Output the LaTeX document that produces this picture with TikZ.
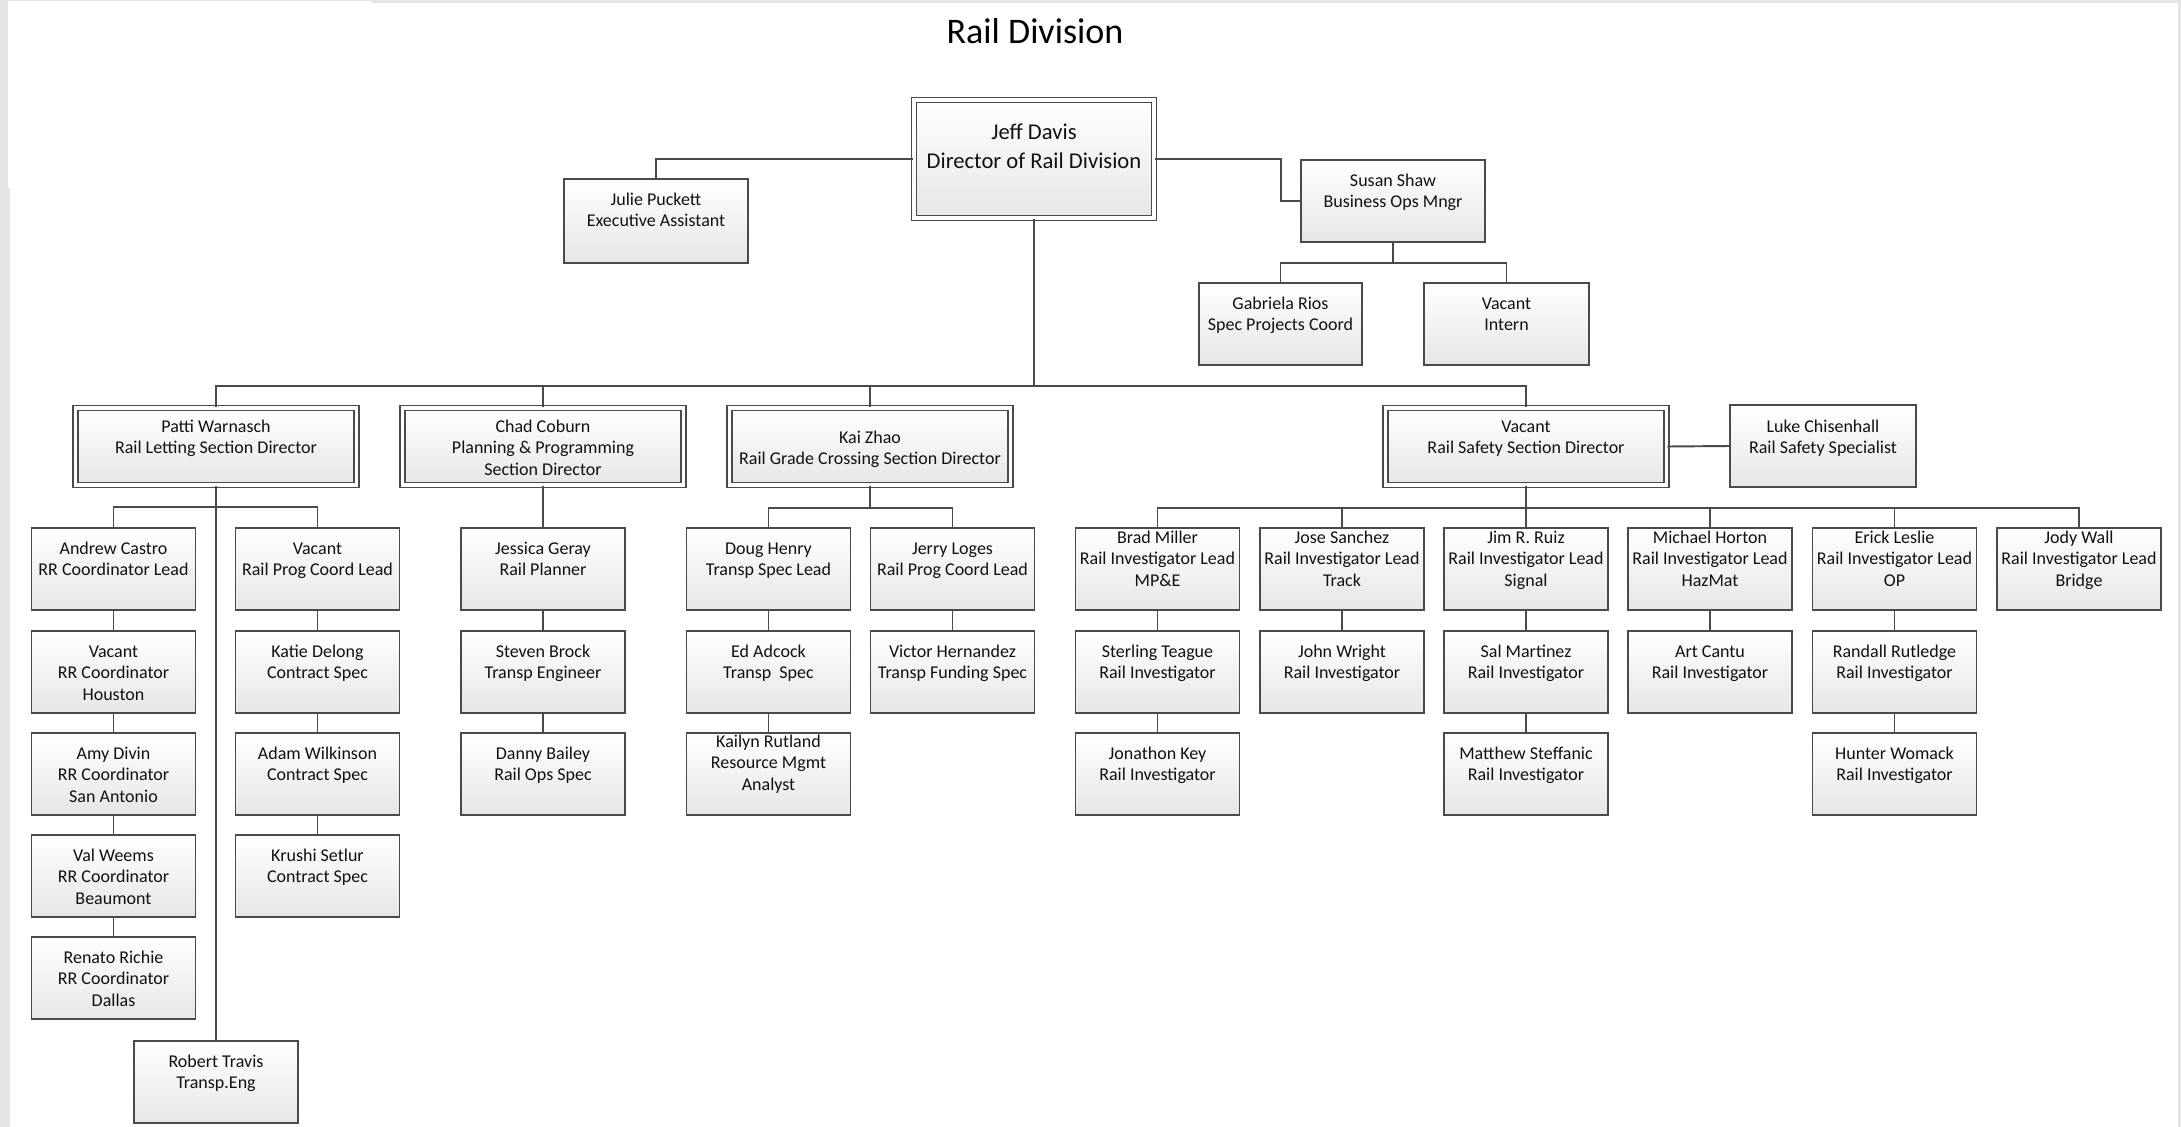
\documentclass[tikz,border=0pt]{standalone}
\usepackage{fontspec}
\setmainfont{Carlito}
\usetikzlibrary{calc}
\definecolor{bggray}{HTML}{E6E6E6}
\definecolor{lgray}{HTML}{4A4A4A}
\definecolor{boxbot}{HTML}{E6E6E6}
\definecolor{txtc}{HTML}{111111}
\tikzset{
  box/.style={draw=lgray, line width=0.55pt, top color=white, bottom color=boxbot, rectangle, inner sep=0pt},
  dbox/.style={box, line width=0.45pt, double=white, double distance=0.9pt},
  txt/.style={inner sep=0pt, text=txtc, font=\fontsize{5.12pt}{6.12pt}\selectfont},
  bigtxt/.style={inner sep=0pt, text=txtc, font=\fontsize{6.43pt}{8.25pt}\selectfont},
  titletxt/.style={inner sep=0pt, text=black, font=\fontsize{10.24pt}{12pt}\selectfont},
  conn/.style={draw=lgray, line width=0.55pt},
}
% style, name, cx, top, w, h, first baseline, text
\newcommand{\ob}[8]{%
  \node[#1, minimum width=#5*0.01cm, minimum height=#6*0.01cm] (#2) at (#3,#4+#6/2) {};
  \node[txt, anchor=base] (#2-t) at (#3,#7) {\begin{tabular}[t]{@{}c@{}}#8\end{tabular}};}
\newcommand{\cb}[4]{\ob{box}{#1}{#2}{#3}{164}{82}{#3+26}{#4}}
\newcommand{\cbo}[4]{\ob{box}{#1}{#2}{#3}{164}{82}{#3+15}{#4}}
\begin{document}
\begin{tikzpicture}[x=0.01cm,y=-0.01cm]
\useasboundingbox (0,0) rectangle (2181,1127);
\fill[bggray] (0,0) rectangle (2181,1127);
\fill[white] (10,3) rectangle (2178,1127);
\fill[white] (8,1) rectangle (372,188);

\node[titletxt, anchor=base] (title) at (1035,43) {Rail Division};

% top level
\node[dbox, minimum width=240*0.01cm, minimum height=118*0.01cm] (jeff) at (1034,159) {};
\node[bigtxt, anchor=base] (jeff-t) at (1034,139) {\begin{tabular}[t]{@{}c@{}}Jeff Davis\\Director of Rail Division\end{tabular}};

\ob{box}{julie}{656}{179}{184}{84}{205}{Julie Puckett\\Executive Assistant}
\ob{box}{susan}{1393}{160}{184}{82}{186}{Susan Shaw\\Business Ops Mngr}
\ob{box}{gab}{1280.5}{283}{163}{82}{309}{Gabriela Rios\\Spec Projects Coord}
\ob{box}{intern}{1506.5}{283}{165}{82}{309}{Vacant\\Intern}

% directors
\ob{dbox}{patti}{216}{408}{281}{77}{432}{Patti Warnasch\\Rail Letting Section Director}
\ob{dbox}{chad}{543}{408}{281}{77}{432}{Chad Coburn\\Planning \& Programming\\Section Director}
\ob{dbox}{kai}{870}{408}{281}{77}{443}{Kai Zhao\\Rail Grade Crossing Section Director}
\ob{dbox}{safety}{1526}{408}{281}{77}{432}{Vacant\\Rail Safety Section Director}
\ob{box}{luke}{1823}{405}{186}{82}{432}{Luke Chisenhall\\Rail Safety Specialist}

% Patti's column
\cb{andrew}{113.5}{528}{Andrew Castro\\RR Coordinator Lead}
\cb{vachou}{113.5}{631}{Vacant\\RR Coordinator\\Houston}
\cb{amy}{113.5}{733}{Amy Divin\\RR Coordinator\\San Antonio}
\cb{val}{113.5}{835}{Val Weems\\RR Coordinator\\Beaumont}
\cb{renato}{113.5}{937}{Renato Richie\\RR Coordinator\\Dallas}
\cb{vacprog}{317.5}{528}{Vacant\\Rail Prog Coord Lead}
\cb{katie}{317.5}{631}{Katie Delong\\Contract Spec}
\cb{adam}{317.5}{733}{Adam Wilkinson\\Contract Spec}
\cb{krushi}{317.5}{835}{Krushi Setlur\\Contract Spec}
\cb{robert}{216}{1041}{Robert Travis\\Transp.Eng}

% Chad's column
\cb{jessica}{543}{528}{Jessica Geray\\Rail Planner}
\cb{steven}{543}{631}{Steven Brock\\Transp Engineer}
\cb{danny}{543}{733}{Danny Bailey\\Rail Ops Spec}

% Kai's columns
\cb{doug}{768.5}{528}{Doug Henry\\Transp Spec Lead}
\cb{ed}{768.5}{631}{Ed Adcock\\Transp\ \ Spec}
\ob{box}{kailyn}{768.5}{733}{164}{82}{747}{Kailyn Rutland\\Resource Mgmt\\Analyst}
\cb{jerry}{952.5}{528}{Jerry Loges\\Rail Prog Coord Lead}
\cb{victor}{952.5}{631}{Victor Hernandez\\Transp Funding Spec}

% Safety columns
\cbo{brad}{1157.5}{528}{Brad Miller\\Rail Investigator Lead\\MP\&E}
\cb{sterling}{1157.5}{631}{Sterling Teague\\Rail Investigator}
\cb{jonathon}{1157.5}{733}{Jonathon Key\\Rail Investigator}
\cbo{jose}{1342}{528}{Jose Sanchez\\Rail Investigator Lead\\Track}
\cb{john}{1342}{631}{John Wright\\Rail Investigator}
\cbo{jim}{1526}{528}{Jim R. Ruiz\\Rail Investigator Lead\\Signal}
\cb{sal}{1526}{631}{Sal Martinez\\Rail Investigator}
\cb{matthew}{1526}{733}{Matthew Steffanic\\Rail Investigator}
\cbo{michael}{1710}{528}{Michael Horton\\Rail Investigator Lead\\HazMat}
\cb{art}{1710}{631}{Art Cantu\\Rail Investigator}
\cbo{erick}{1894.5}{528}{Erick Leslie\\Rail Investigator Lead\\OP}
\cb{randall}{1894.5}{631}{Randall Rutledge\\Rail Investigator}
\cb{hunter}{1894.5}{733}{Hunter Womack\\Rail Investigator}
\cbo{jody}{2079}{528}{Jody Wall\\Rail Investigator Lead\\Bridge}

% connectors
\coordinate (bus) at (0,386);
\coordinate (sbus) at (0,263);
\coordinate (sub1) at (0,507);
\coordinate (sub2) at (0,508);
\coordinate (sj) at (1281,0);

\draw[conn] (jeff.west) -| (julie.north);
\draw[conn] (jeff.east) -| (sj |- susan.west) -- (susan.west);
\draw[conn] (susan.south) -- (susan.south |- sbus);
\draw[conn] (gab.north) |- (sbus -| intern.north) -- (intern.north);

\draw[conn] (jeff.south) -- (jeff.south |- bus);
\draw[conn] (patti.north) |- (bus -| safety.north) -- (safety.north);
\draw[conn] (chad.north) -- (chad.north |- bus);
\draw[conn] (kai.north) -- (kai.north |- bus);
\draw[conn] (safety.east) -- (luke.west);

\draw[conn] (patti.south) -- (robert.north);
\draw[conn] (andrew.north) |- (sub1 -| vacprog.north) -- (vacprog.north);
\draw[conn] (chad.south) -- (jessica.north);
\draw[conn] (kai.south) -- (kai.south |- sub2);
\draw[conn] (doug.north) |- (sub2 -| jerry.north) -- (jerry.north);
\draw[conn] (safety.south) -- (safety.south |- sub2);
\draw[conn] (brad.north) |- (sub2 -| jody.north) -- (jody.north);
\foreach \n in {jose,jim,michael,erick}
  \draw[conn] (\n.north) -- (\n.north |- sub2);

\foreach \a/\b in {andrew/vachou, vachou/amy, amy/val, val/renato,
  vacprog/katie, katie/adam, adam/krushi, jessica/steven, steven/danny,
  doug/ed, ed/kailyn, jerry/victor, brad/sterling, sterling/jonathon,
  jose/john, jim/sal, sal/matthew, michael/art, erick/randall, randall/hunter}
  \draw[conn] (\a.south) -- (\b.north);
\end{tikzpicture}
\end{document}
